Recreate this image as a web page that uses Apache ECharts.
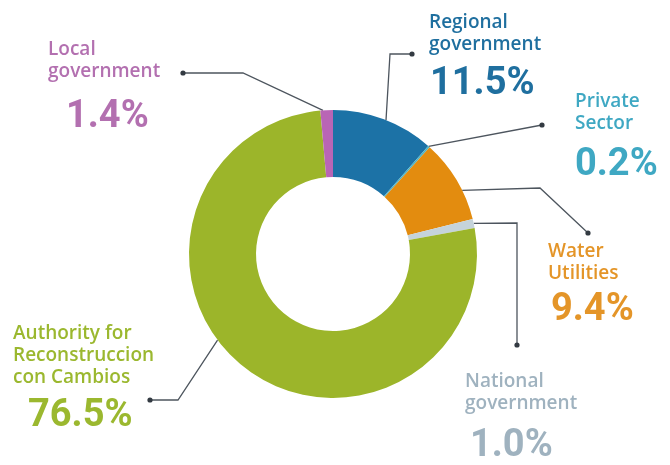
<!DOCTYPE html>
<html>
<head>
<meta charset="utf-8">
<script src="https://cdn.jsdelivr.net/npm/echarts@6/dist/echarts.min.js"></script>
<style>
  html, body { margin: 0; background: #fff; }
  #chart { width: 670px; height: 465px; }
</style>
</head>
<body>
<div id="chart"></div>
<script>
// slices, clockwise from 12 o'clock
const sectors = ['Regional government', 'Private Sector', 'Water Utilities', 'National government',
                 'Authority for Reconstruccion con Cambios', 'Local government'];
const nameLines = [['Regional', 'government'], ['Private', 'Sector'], ['Water', 'Utilities'],
                   ['National', 'government'], ['Authority for', 'Reconstruccion', 'con Cambios'],
                   ['Local', 'government']];
const shares = [11.5, 0.2, 9.4, 1.0, 76.5, 1.4];

const sliceColors = ['#1c72a6', '#4db5c8', '#e38c0f', '#c5d3da', '#9cb52a', '#b965b5'];
const textColors  = ['#1f6f9f', '#3fa8c3', '#e49528', '#9fb2bf', '#9bb82f', '#b370b0'];

const NAME_FONT = "'Open Sans', sans-serif";
const PCT_FONT = "Roboto, 'Liberation Sans', sans-serif";

const CX = 333, CY = 254, R_IN = 77, R_OUT = 144;

// label block (top-left), indent of the % line, its line height,
// angle where the leader leaves the ring, and the leader's bend/end points
const callouts = [
  { x: 429, y: 12,  indent: 1,  pctLH: 56, anchor: 21.6,  path: [[390, 54], [412, 54]] },
  { x: 575, y: 91,  indent: 0,  pctLH: 61, anchor: 41.6,  path: [[542, 125]] },
  { x: 548, y: 241, indent: 3,  pctLH: 51, anchor: 63.8,  path: [[540, 188], [588, 233]] },
  { x: 465, y: 371, indent: 5,  pctLH: 63, anchor: 77.7,  path: [[517, 223], [517, 345]] },
  { x: 13,  y: 323, indent: 15, pctLH: 55, anchor: 233.3, path: [[178, 400], [150, 400]] },
  { x: 48,  y: 39,  indent: 18, pctLH: 68, anchor: 356,   path: [[243, 73], [183, 73]] }
];

const chart = echarts.init(document.getElementById('chart'), null, { renderer: 'canvas' });

const data = shares.map((v, i) => ({
  name: sectors[i],
  value: v,
  itemStyle: { color: sliceColors[i] },
  label: {
    color: textColors[i],
    rich: {
      n: { fontFamily: NAME_FONT, fontSize: 19, fontWeight: 600, lineHeight: 22, color: textColors[i] },
      p: { fontFamily: PCT_FONT, fontSize: 38, fontWeight: 'bold', lineHeight: callouts[i].pctLH,
           padding: [0, 0, 0, callouts[i].indent], color: textColors[i] }
    }
  }
}));

const option = {
  animation: false,
  series: [
    {
      type: 'pie',
      center: [CX, CY],
      radius: [R_IN, R_OUT],
      startAngle: 90,
      clockwise: true,
      avoidLabelOverlap: false,
      silent: true,
      data,
      label: {
        show: true,
        position: 'outside',
        formatter: p => nameLines[p.dataIndex].map(t => '{n|' + t + '}').join('\n') +
          '\n{p|' + shares[p.dataIndex].toFixed(1) + '%}'
      },
      labelLine: {
        show: true,
        lineStyle: { color: '#4d555e', width: 1.3 }
      },
      labelLayout: params => {
        const c = callouts[params.dataIndex];
        const a = c.anchor * Math.PI / 180;
        const start = [CX + R_OUT * Math.sin(a), CY - R_OUT * Math.cos(a)];
        return {
          x: c.x,
          y: c.y,
          align: 'left',
          verticalAlign: 'top',
          labelLinePoints: [start].concat(c.path)
        };
      }
    }
  ],
  // end dots of the leader lines
  graphic: callouts.map(c => {
    const end = c.path[c.path.length - 1];
    return { type: 'circle', z: 10, shape: { cx: end[0], cy: end[1], r: 2.6 }, style: { fill: '#333a42' } };
  })
};

chart.setOption(option);
</script>
</body>
</html>
